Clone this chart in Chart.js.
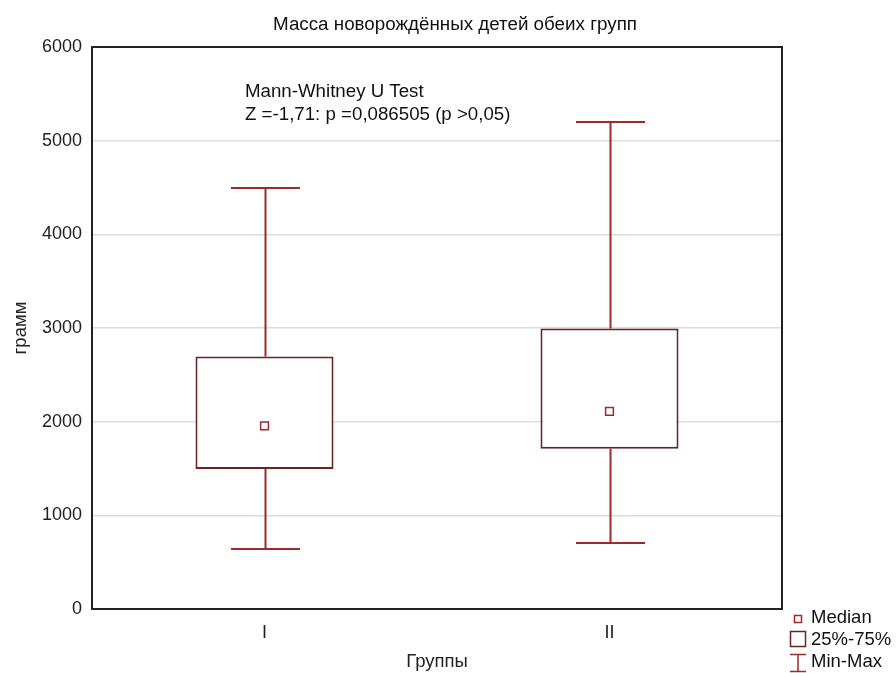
<!DOCTYPE html>
<html>
<head>
<meta charset="utf-8">
<script src="https://cdn.jsdelivr.net/npm/chart.js@4.4.1/dist/chart.umd.min.js"></script>
<style>
  html, body { margin: 0; padding: 0; background: #fff; }
  #wrap { width: 896px; height: 673px; }
</style>
</head>
<body>
<div id="wrap"><canvas id="chart" width="896" height="673"></canvas></div>
<script>
// groups and box plot stats (грамм)
var groups = ['I', 'II'];
var minVals = [640, 700];
var q1Vals = [1495, 1710];
var medianVals = [1955, 2110];
var q3Vals = [2695, 2995];
var maxVals = [4500, 5200];
var yTicks = [0, 1000, 2000, 3000, 4000, 5000, 6000];

var titleText = 'Масса новорождённых детей обеих групп';
var testLines = ['Mann-Whitney U Test', 'Z =-1,71: p =0,086505 (p >0,05)'];
var legendItems = ['Median', '25%-75%', 'Min-Max'];

var FONT = '"Liberation Sans", Arial, sans-serif';
var boxColor = '#6a2222';
var whiskerColor = '#9e2a2a';

var boxData = groups.map(function (g, i) { return [q1Vals[i], q3Vals[i]]; });

// whiskers, frame, title, annotation and legend
var extras = {
  id: 'extras',
  beforeDatasetsDraw: function (chart) {
    var ctx = chart.ctx, x = chart.scales.x, y = chart.scales.y;
    ctx.save();
    ctx.strokeStyle = whiskerColor;
    ctx.lineWidth = 2;
    var half = x.width / groups.length * 0.1;
    groups.forEach(function (g, i) {
      var cx = Math.round(x.getPixelForValue(i)) + 0.5;
      var yMax = Math.round(y.getPixelForValue(maxVals[i]));
      var yMin = Math.round(y.getPixelForValue(minVals[i]));
      ctx.beginPath();
      ctx.moveTo(cx, yMax); ctx.lineTo(cx, y.getPixelForValue(q3Vals[i]));
      ctx.moveTo(cx, y.getPixelForValue(q1Vals[i])); ctx.lineTo(cx, yMin);
      ctx.moveTo(cx - half, yMax); ctx.lineTo(cx + half, yMax);
      ctx.moveTo(cx - half, yMin); ctx.lineTo(cx + half, yMin);
      ctx.stroke();
    });
    ctx.restore();
  },
  afterDraw: function (chart) {
    var ctx = chart.ctx, a = chart.chartArea;
    ctx.save();
    ctx.strokeStyle = '#222';
    ctx.lineWidth = 2;
    ctx.strokeRect(a.left, a.top, a.right - a.left, a.bottom - a.top);

    ctx.fillStyle = '#111';
    ctx.textBaseline = 'middle';
    ctx.textAlign = 'center';
    ctx.font = '18.8px ' + FONT;
    ctx.fillText(titleText, 455, 25);

    ctx.textAlign = 'left';
    ctx.font = '18.7px ' + FONT;
    ctx.fillText(testLines[0], 245, 92);
    ctx.fillText(testLines[1], 245, 115);

    // legend
    ctx.font = '18.5px ' + FONT;
    ctx.fillText(legendItems[0], 811, 618);
    ctx.fillText(legendItems[1], 811, 640);
    ctx.fillText(legendItems[2], 811, 662);
    ctx.lineWidth = 1.5;
    ctx.strokeStyle = whiskerColor;
    ctx.strokeRect(794.5, 615.5, 7, 7);
    ctx.strokeStyle = boxColor;
    ctx.strokeRect(790.5, 631.5, 15, 15);
    ctx.strokeStyle = whiskerColor;
    ctx.beginPath();
    ctx.moveTo(790, 654.5); ctx.lineTo(806, 654.5);
    ctx.moveTo(798, 654.5); ctx.lineTo(798, 671.5);
    ctx.moveTo(790, 671.5); ctx.lineTo(806, 671.5);
    ctx.stroke();
    ctx.restore();
  }
};

new Chart(document.getElementById('chart').getContext('2d'), {
  type: 'bar',
  data: {
    labels: groups,
    datasets: [{
      type: 'bar',
      label: '25%-75%',
      data: boxData,
      backgroundColor: '#ffffff',
      borderColor: boxColor,
      borderWidth: 2,
      borderSkipped: false,
      categoryPercentage: 1,
      barPercentage: 0.4,
      order: 2
    }, {
      type: 'line',
      label: 'Median',
      data: medianVals,
      showLine: false,
      pointStyle: 'rect',
      pointRadius: 5.5,
      pointBorderWidth: 1.5,
      pointBackgroundColor: '#ffffff',
      pointBorderColor: whiskerColor,
      order: 1
    }]
  },
  options: {
    responsive: false,
    animation: false,
    layout: { padding: { left: 0, right: 114, top: 47, bottom: 0 } },
    plugins: {
      legend: { display: false },
      tooltip: { enabled: false },
      title: { display: false }
    },
    scales: {
      x: {
        grid: { display: false, drawTicks: true, tickLength: 5 },
        border: { color: '#222', width: 2 },
        ticks: { color: '#222', font: { family: FONT, size: 18 }, padding: 8 },
        title: { display: true, text: 'Группы', color: '#222', font: { family: FONT, size: 18.5 }, padding: { top: 1, bottom: 0 } },
        afterFit: function (s) { s.height = 64; }
      },
      y: {
        min: 0,
        max: 6000,
        afterBuildTicks: function (s) { s.ticks = yTicks.map(function (v) { return { value: v }; }); },
        grid: { color: '#dcdcdc', lineWidth: 1.5, drawTicks: false },
        border: { color: '#222', width: 2 },
        ticks: {
          color: '#222', font: { family: FONT, size: 18 }, padding: 10,
          callback: function (v) { return String(v); }
        },
        title: { display: true, text: 'грамм', color: '#222', font: { family: FONT, size: 18.5 }, padding: { top: 10, bottom: 0 } },
        afterFit: function (s) { s.width = 92; }
      }
    }
  },
  plugins: [extras]
});
</script>
</body>
</html>
